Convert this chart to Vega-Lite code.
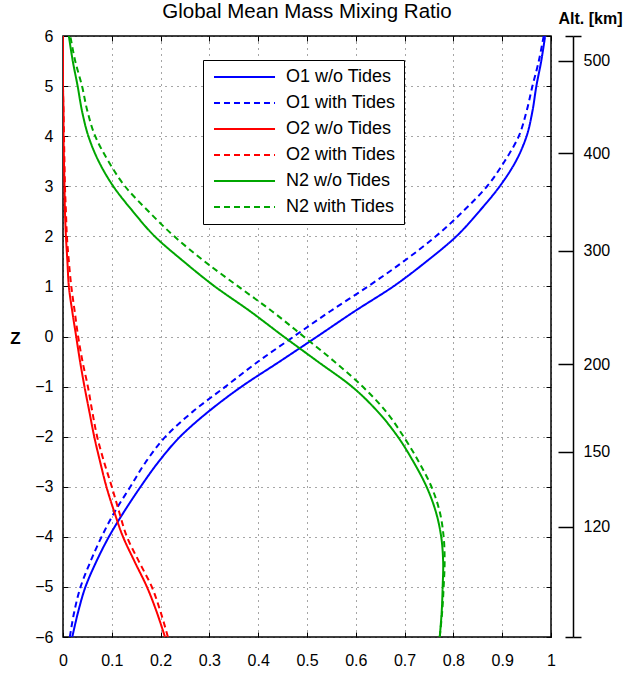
{
  "$schema": "https://vega.github.io/schema/vega-lite/v6.json",
  "autosize": "none",
  "width": 488,
  "height": 601,
  "padding": {"left": 63, "top": 36, "right": 76, "bottom": 43},
  "background": "white",
  "title": {"text": "Global Mean Mass Mixing Ratio", "fontSize": 20.5, "fontWeight": "normal", "font": "Liberation Sans", "color": "black", "anchor": "middle", "offset": -12},
  "config": {
    "view": {"stroke": "black", "strokeWidth": 1.5},
    "font": "Liberation Sans",
    "axis": {"labelFont": "Liberation Sans", "labelColor": "black", "tickColor": "black", "domainColor": "black", "labelFontSize": 16, "titleColor": "black"}
  },
  "data": {"values": [
    {"z": 6, "v": 0.988, "series": "O1 w/o Tides"},
    {"z": 5.5, "v": 0.980, "series": "O1 w/o Tides"},
    {"z": 5, "v": 0.970, "series": "O1 w/o Tides"},
    {"z": 4.5, "v": 0.962, "series": "O1 w/o Tides"},
    {"z": 4, "v": 0.950, "series": "O1 w/o Tides"},
    {"z": 3.5, "v": 0.928, "series": "O1 w/o Tides"},
    {"z": 3, "v": 0.895, "series": "O1 w/o Tides"},
    {"z": 2.5, "v": 0.853, "series": "O1 w/o Tides"},
    {"z": 2, "v": 0.806, "series": "O1 w/o Tides"},
    {"z": 1.5, "v": 0.745, "series": "O1 w/o Tides"},
    {"z": 1, "v": 0.677, "series": "O1 w/o Tides"},
    {"z": 0.5, "v": 0.597, "series": "O1 w/o Tides"},
    {"z": 0, "v": 0.521, "series": "O1 w/o Tides"},
    {"z": -0.5, "v": 0.444, "series": "O1 w/o Tides"},
    {"z": -1, "v": 0.366, "series": "O1 w/o Tides"},
    {"z": -1.5, "v": 0.298, "series": "O1 w/o Tides"},
    {"z": -2, "v": 0.240, "series": "O1 w/o Tides"},
    {"z": -2.5, "v": 0.196, "series": "O1 w/o Tides"},
    {"z": -3, "v": 0.159, "series": "O1 w/o Tides"},
    {"z": -3.5, "v": 0.125, "series": "O1 w/o Tides"},
    {"z": -4, "v": 0.094, "series": "O1 w/o Tides"},
    {"z": -4.5, "v": 0.068, "series": "O1 w/o Tides"},
    {"z": -5, "v": 0.046, "series": "O1 w/o Tides"},
    {"z": -5.5, "v": 0.031, "series": "O1 w/o Tides"},
    {"z": -6, "v": 0.019, "series": "O1 w/o Tides"},
    {"z": 6, "v": 0.985, "series": "O1 with Tides"},
    {"z": 5.5, "v": 0.975, "series": "O1 with Tides"},
    {"z": 5, "v": 0.962, "series": "O1 with Tides"},
    {"z": 4.5, "v": 0.950, "series": "O1 with Tides"},
    {"z": 4, "v": 0.934, "series": "O1 with Tides"},
    {"z": 3.5, "v": 0.905, "series": "O1 with Tides"},
    {"z": 3, "v": 0.869, "series": "O1 with Tides"},
    {"z": 2.5, "v": 0.820, "series": "O1 with Tides"},
    {"z": 2, "v": 0.764, "series": "O1 with Tides"},
    {"z": 1.5, "v": 0.698, "series": "O1 with Tides"},
    {"z": 1, "v": 0.625, "series": "O1 with Tides"},
    {"z": 0.5, "v": 0.547, "series": "O1 with Tides"},
    {"z": 0, "v": 0.473, "series": "O1 with Tides"},
    {"z": -0.5, "v": 0.400, "series": "O1 with Tides"},
    {"z": -1, "v": 0.333, "series": "O1 with Tides"},
    {"z": -1.5, "v": 0.266, "series": "O1 with Tides"},
    {"z": -2, "v": 0.210, "series": "O1 with Tides"},
    {"z": -2.5, "v": 0.170, "series": "O1 with Tides"},
    {"z": -3, "v": 0.138, "series": "O1 with Tides"},
    {"z": -3.5, "v": 0.106, "series": "O1 with Tides"},
    {"z": -4, "v": 0.079, "series": "O1 with Tides"},
    {"z": -4.5, "v": 0.056, "series": "O1 with Tides"},
    {"z": -5, "v": 0.036, "series": "O1 with Tides"},
    {"z": -5.5, "v": 0.023, "series": "O1 with Tides"},
    {"z": -6, "v": 0.014, "series": "O1 with Tides"},
    {"z": 6, "v": 0.000, "series": "O2 w/o Tides"},
    {"z": 5.5, "v": 0.000, "series": "O2 w/o Tides"},
    {"z": 5, "v": 0.000, "series": "O2 w/o Tides"},
    {"z": 4.5, "v": 0.001, "series": "O2 w/o Tides"},
    {"z": 4, "v": 0.001, "series": "O2 w/o Tides"},
    {"z": 3.5, "v": 0.002, "series": "O2 w/o Tides"},
    {"z": 3, "v": 0.003, "series": "O2 w/o Tides"},
    {"z": 2.5, "v": 0.004, "series": "O2 w/o Tides"},
    {"z": 2, "v": 0.006, "series": "O2 w/o Tides"},
    {"z": 1.5, "v": 0.009, "series": "O2 w/o Tides"},
    {"z": 1, "v": 0.012, "series": "O2 w/o Tides"},
    {"z": 0.5, "v": 0.019, "series": "O2 w/o Tides"},
    {"z": 0, "v": 0.027, "series": "O2 w/o Tides"},
    {"z": -0.5, "v": 0.035, "series": "O2 w/o Tides"},
    {"z": -1, "v": 0.044, "series": "O2 w/o Tides"},
    {"z": -1.5, "v": 0.054, "series": "O2 w/o Tides"},
    {"z": -2, "v": 0.064, "series": "O2 w/o Tides"},
    {"z": -2.5, "v": 0.076, "series": "O2 w/o Tides"},
    {"z": -3, "v": 0.089, "series": "O2 w/o Tides"},
    {"z": -3.5, "v": 0.105, "series": "O2 w/o Tides"},
    {"z": -4, "v": 0.123, "series": "O2 w/o Tides"},
    {"z": -4.5, "v": 0.147, "series": "O2 w/o Tides"},
    {"z": -5, "v": 0.172, "series": "O2 w/o Tides"},
    {"z": -5.5, "v": 0.192, "series": "O2 w/o Tides"},
    {"z": -6, "v": 0.209, "series": "O2 w/o Tides"},
    {"z": 6, "v": 0.000, "series": "O2 with Tides"},
    {"z": 5.5, "v": 0.000, "series": "O2 with Tides"},
    {"z": 5, "v": 0.000, "series": "O2 with Tides"},
    {"z": 4.5, "v": 0.001, "series": "O2 with Tides"},
    {"z": 4, "v": 0.002, "series": "O2 with Tides"},
    {"z": 3.5, "v": 0.003, "series": "O2 with Tides"},
    {"z": 3, "v": 0.004, "series": "O2 with Tides"},
    {"z": 2.5, "v": 0.006, "series": "O2 with Tides"},
    {"z": 2, "v": 0.008, "series": "O2 with Tides"},
    {"z": 1.5, "v": 0.012, "series": "O2 with Tides"},
    {"z": 1, "v": 0.017, "series": "O2 with Tides"},
    {"z": 0.5, "v": 0.024, "series": "O2 with Tides"},
    {"z": 0, "v": 0.031, "series": "O2 with Tides"},
    {"z": -0.5, "v": 0.040, "series": "O2 with Tides"},
    {"z": -1, "v": 0.051, "series": "O2 with Tides"},
    {"z": -1.5, "v": 0.060, "series": "O2 with Tides"},
    {"z": -2, "v": 0.070, "series": "O2 with Tides"},
    {"z": -2.5, "v": 0.084, "series": "O2 with Tides"},
    {"z": -3, "v": 0.100, "series": "O2 with Tides"},
    {"z": -3.5, "v": 0.115, "series": "O2 with Tides"},
    {"z": -4, "v": 0.131, "series": "O2 with Tides"},
    {"z": -4.5, "v": 0.156, "series": "O2 with Tides"},
    {"z": -5, "v": 0.182, "series": "O2 with Tides"},
    {"z": -5.5, "v": 0.200, "series": "O2 with Tides"},
    {"z": -6, "v": 0.215, "series": "O2 with Tides"},
    {"z": 6, "v": 0.012, "series": "N2 w/o Tides"},
    {"z": 5.5, "v": 0.020, "series": "N2 w/o Tides"},
    {"z": 5, "v": 0.030, "series": "N2 w/o Tides"},
    {"z": 4.5, "v": 0.039, "series": "N2 w/o Tides"},
    {"z": 4, "v": 0.052, "series": "N2 w/o Tides"},
    {"z": 3.5, "v": 0.073, "series": "N2 w/o Tides"},
    {"z": 3, "v": 0.103, "series": "N2 w/o Tides"},
    {"z": 2.5, "v": 0.143, "series": "N2 w/o Tides"},
    {"z": 2, "v": 0.188, "series": "N2 w/o Tides"},
    {"z": 1.5, "v": 0.247, "series": "N2 w/o Tides"},
    {"z": 1, "v": 0.311, "series": "N2 w/o Tides"},
    {"z": 0.5, "v": 0.384, "series": "N2 w/o Tides"},
    {"z": 0, "v": 0.452, "series": "N2 w/o Tides"},
    {"z": -0.5, "v": 0.522, "series": "N2 w/o Tides"},
    {"z": -1, "v": 0.592, "series": "N2 w/o Tides"},
    {"z": -1.5, "v": 0.645, "series": "N2 w/o Tides"},
    {"z": -2, "v": 0.686, "series": "N2 w/o Tides"},
    {"z": -2.5, "v": 0.718, "series": "N2 w/o Tides"},
    {"z": -3, "v": 0.745, "series": "N2 w/o Tides"},
    {"z": -3.5, "v": 0.764, "series": "N2 w/o Tides"},
    {"z": -4, "v": 0.775, "series": "N2 w/o Tides"},
    {"z": -4.5, "v": 0.779, "series": "N2 w/o Tides"},
    {"z": -5, "v": 0.778, "series": "N2 w/o Tides"},
    {"z": -5.5, "v": 0.776, "series": "N2 w/o Tides"},
    {"z": -6, "v": 0.772, "series": "N2 w/o Tides"},
    {"z": 6, "v": 0.015, "series": "N2 with Tides"},
    {"z": 5.5, "v": 0.025, "series": "N2 with Tides"},
    {"z": 5, "v": 0.039, "series": "N2 with Tides"},
    {"z": 4.5, "v": 0.050, "series": "N2 with Tides"},
    {"z": 4, "v": 0.066, "series": "N2 with Tides"},
    {"z": 3.5, "v": 0.093, "series": "N2 with Tides"},
    {"z": 3, "v": 0.127, "series": "N2 with Tides"},
    {"z": 2.5, "v": 0.175, "series": "N2 with Tides"},
    {"z": 2, "v": 0.228, "series": "N2 with Tides"},
    {"z": 1.5, "v": 0.290, "series": "N2 with Tides"},
    {"z": 1, "v": 0.359, "series": "N2 with Tides"},
    {"z": 0.5, "v": 0.429, "series": "N2 with Tides"},
    {"z": 0, "v": 0.493, "series": "N2 with Tides"},
    {"z": -0.5, "v": 0.556, "series": "N2 with Tides"},
    {"z": -1, "v": 0.614, "series": "N2 with Tides"},
    {"z": -1.5, "v": 0.662, "series": "N2 with Tides"},
    {"z": -2, "v": 0.698, "series": "N2 with Tides"},
    {"z": -2.5, "v": 0.729, "series": "N2 with Tides"},
    {"z": -3, "v": 0.755, "series": "N2 with Tides"},
    {"z": -3.5, "v": 0.772, "series": "N2 with Tides"},
    {"z": -4, "v": 0.780, "series": "N2 with Tides"},
    {"z": -4.5, "v": 0.782, "series": "N2 with Tides"},
    {"z": -5, "v": 0.780, "series": "N2 with Tides"},
    {"z": -5.5, "v": 0.777, "series": "N2 with Tides"},
    {"z": -6, "v": 0.772, "series": "N2 with Tides"}
  ]},
  "resolve": {"axis": {"x": "independent", "y": "independent"}},
  "layer": [
    {
      "mark": {"type": "line", "strokeWidth": 2, "interpolate": "cardinal", "clip": true},
      "encoding": {
        "x": {"field": "v", "type": "quantitative", "scale": {"domain": [0, 1], "nice": false, "zero": false},
          "axis": {"orient": "bottom", "title": null, "values": [0, 0.1, 0.2, 0.3, 0.4, 0.5, 0.6, 0.7, 0.8, 0.9, 1], "format": "~g", "grid": true, "gridDash": [1, 5], "gridColor": "black", "gridOpacity": 0.7, "tickSize": -5, "domain": false, "labelPadding": 20, "labelFlush": false}},
        "y": {"field": "z", "type": "quantitative", "scale": {"domain": [-6, 6], "nice": false, "zero": false},
          "axis": {"orient": "left", "title": "Z", "values": [-6, -5, -4, -3, -2, -1, 0, 1, 2, 3, 4, 5, 6], "grid": true, "gridDash": [1, 5], "gridColor": "black", "gridOpacity": 0.7, "tickSize": -5, "domain": false, "labelPadding": 15, "labelFlush": false, "titleAngle": 0, "titleFontWeight": "bold", "titleFontSize": 17, "titleX": -48, "titleY": 302, "titleAlign": "center", "titleBaseline": "middle", "titleFont": "Liberation Sans"}},
        "order": {"field": "z", "type": "quantitative"},
        "color": {"field": "series", "type": "nominal",
          "scale": {"domain": ["O1 w/o Tides", "O1 with Tides", "O2 w/o Tides", "O2 with Tides", "N2 w/o Tides", "N2 with Tides"], "range": ["#0000ff", "#0000ff", "#ff0000", "#ff0000", "#00a600", "#00a600"]},
          "legend": {"title": null, "orient": "none", "legendX": 140, "legendY": 24, "strokeColor": "black", "fillColor": "white", "padding": 8, "labelFontSize": 18, "labelFont": "Liberation Sans", "labelColor": "black", "symbolType": "M-1,0H9.17", "symbolSize": 144, "symbolStrokeWidth": 2, "rowPadding": 8, "labelOffset": 57}},
        "strokeDash": {"field": "series", "type": "nominal",
          "scale": {"domain": ["O1 w/o Tides", "O1 with Tides", "O2 w/o Tides", "O2 with Tides", "N2 w/o Tides", "N2 with Tides"], "range": [[1, 0], [6, 4], [1, 0], [6, 4], [1, 0], [6, 4]]},
          "legend": {"title": null}}
      }
    },
    {
      "mark": {"type": "point", "opacity": 0},
      "encoding": {
        "x": {"field": "v", "type": "quantitative", "axis": {"orient": "top", "title": null, "values": [0, 0.1, 0.2, 0.3, 0.4, 0.5, 0.6, 0.7, 0.8, 0.9, 1], "labels": false, "grid": false, "domain": false, "tickSize": -5}},
        "y": {"field": "z", "type": "quantitative", "axis": {"orient": "right", "title": null, "values": [-6, -5, -4, -3, -2, -1, 0, 1, 2, 3, 4, 5, 6], "labels": false, "grid": false, "domain": false, "tickSize": -5}}
      }
    },
    {
      "mark": {"type": "point", "opacity": 0},
      "encoding": {
        "x": {"field": "v", "type": "quantitative", "axis": null},
        "y": {"field": "z", "type": "quantitative", "axis": {"orient": "right", "offset": 22, "values": [6, 5.507, 3.659, 1.715, -0.553, -2.3, -3.8, -6], "labelExpr": "abs(datum.value) == 6 ? '' : datum.value > 5 ? '500' : datum.value > 3 ? '400' : datum.value > 1 ? '300' : datum.value > -1 ? '200' : datum.value > -3 ? '150' : '120'", "grid": false, "domain": true, "domainWidth": 1.5, "tickWidth": 1.5, "tickSize": {"condition": {"test": "abs(datum.value) == 6", "value": -8}, "value": -15}, "labelPadding": 25, "labelFlush": false, "title": "Alt. [km]", "titleAngle": 0, "titleFontWeight": "bold", "titleFontSize": 16, "titleX": 17, "titleY": -18, "titleAlign": "center", "titleBaseline": "middle", "titleFont": "Liberation Sans"}}
      }
    },
    {
      "mark": {"type": "point", "opacity": 0},
      "encoding": {
        "x": {"field": "v", "type": "quantitative", "axis": null},
        "y": {"field": "z", "type": "quantitative", "axis": {"orient": "right", "offset": 22, "values": [6, -6], "labels": false, "grid": false, "domain": false, "tickSize": 8, "tickWidth": 1.5, "title": null}}
      }
    }
  ]
}
